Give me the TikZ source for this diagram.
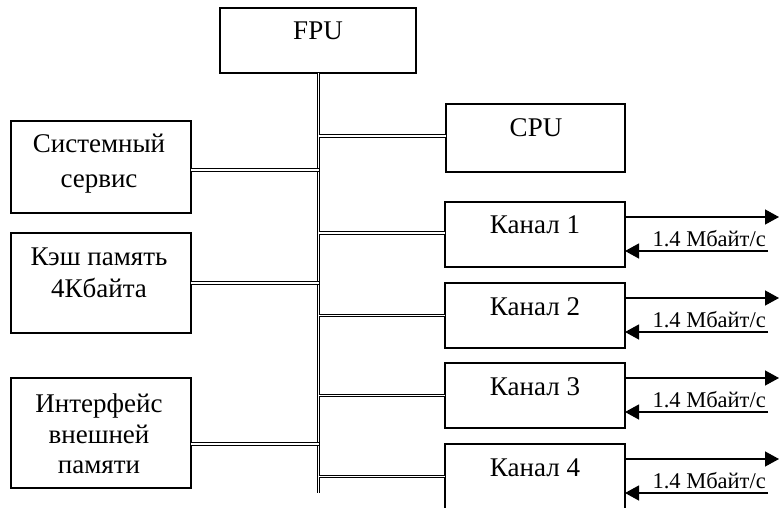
\documentclass[tikz,border=0pt]{standalone}
\usepackage{fontspec}
\setmainfont{Liberation Serif}
\usetikzlibrary{arrows.meta,calc}
\begin{document}
\begin{tikzpicture}[x=1pt,y=-1pt,
  blk/.style={draw,line width=1.3pt,inner sep=0pt,outer sep=0pt,anchor=north west},
  txt/.style={font=\fontsize{27}{30}\selectfont,anchor=base,inner sep=0pt},
  lbl/.style={font=\fontsize{22.5}{24}\selectfont,anchor=base east,inner sep=0pt},
  bus/.style={double,double distance=1.5pt,line width=1.1pt},
  arr/.style={line width=1.3pt,-{Triangle[length=14pt,width=15pt]}}]
\useasboundingbox (0,0) rectangle (779,508);
\clip (0,0) rectangle (779,508);
% boxes
\node[blk,minimum width=196pt,minimum height=65pt] (fpu) at (220,8) {};
\node[blk,minimum width=179pt,minimum height=68pt] (cpu) at (446,104) {};
\node[blk,minimum width=180pt,minimum height=92pt] (sys) at (11,121) {};
\node[blk,minimum width=180pt,minimum height=100pt] (cache) at (11,233) {};
\node[blk,minimum width=180pt,minimum height=110pt] (ext) at (11,378) {};
\node[blk,minimum width=180pt,minimum height=65pt] (ch1) at (445,202) {};
\node[blk,minimum width=180pt,minimum height=65pt] (ch2) at (445,283) {};
\node[blk,minimum width=180pt,minimum height=65pt] (ch3) at (445,363) {};
\node[blk,minimum width=180pt,minimum height=65pt] (ch4) at (445,444) {};
% texts
\node[txt] (tfpu) at (318,40) {FPU};
\node[txt] (tcpu) at (536,137) {CPU};
\node[txt] (tsys1) at (99,153) {Системный};
\node[txt] (tsys2) at (99,187) {сервис};
\node[txt] (tc1) at (99,265) {Кэш память};
\node[txt] (tc2) at (99,297) {4Кбайта};
\node[txt] (te1) at (99,412) {Интерфейс};
\node[txt] (te2) at (99,443) {внешней};
\node[txt] (te3) at (99,473) {памяти};
\node[txt] (tch1) at (535,233) {Канал 1};
\node[txt] (tch2) at (535,315) {Канал 2};
\node[txt] (tch3) at (535,395) {Канал 3};
\node[txt] (tch4) at (535,476) {Канал 4};
% bus
\coordinate (bustop) at (318.5,73);
\coordinate (busbot) at (318.5,493);
\draw[bus] (fpu.south -| bustop) -- (busbot);
% left connectors
\draw[bus] ([yshift=-3pt]sys.east) -- ([yshift=-3pt]sys.east -| bustop);
\draw[bus] (cache.east) -- (cache.east -| bustop);
\draw[bus] ([yshift=-11pt]ext.east) -- ([yshift=-11pt]ext.east -| bustop);
% right connectors
\draw[bus] ([yshift=2pt]cpu.west -| bustop) -- ([yshift=2pt]cpu.west);
\draw[bus] ([yshift=1.5pt]ch1.west -| bustop) -- ([yshift=1.5pt]ch1.west);
\draw[bus] (ch2.west -| bustop) -- (ch2.west);
\draw[bus] (ch3.west -| bustop) -- (ch3.west);
\draw[bus] (ch4.west -| bustop) -- (ch4.west);
% channel arrows
\foreach \c in {ch1,ch2,ch3,ch4}{
  \coordinate (\c out) at ($(\c.north east)+(0,15)$);
  \coordinate (\c in) at ($(\c.north east)+(143,49)$);
  \coordinate (\c outend) at ($(\c.north east)+(154,15)$);
  \draw[arr] (\c out) -- (\c outend);
  \draw[arr] (\c in) -- (\c in -| \c.east);
  \node[lbl] at ($(\c in)+(-2,-5)$) {1.4 Мбайт/с};
}
\end{tikzpicture}
\end{document}
